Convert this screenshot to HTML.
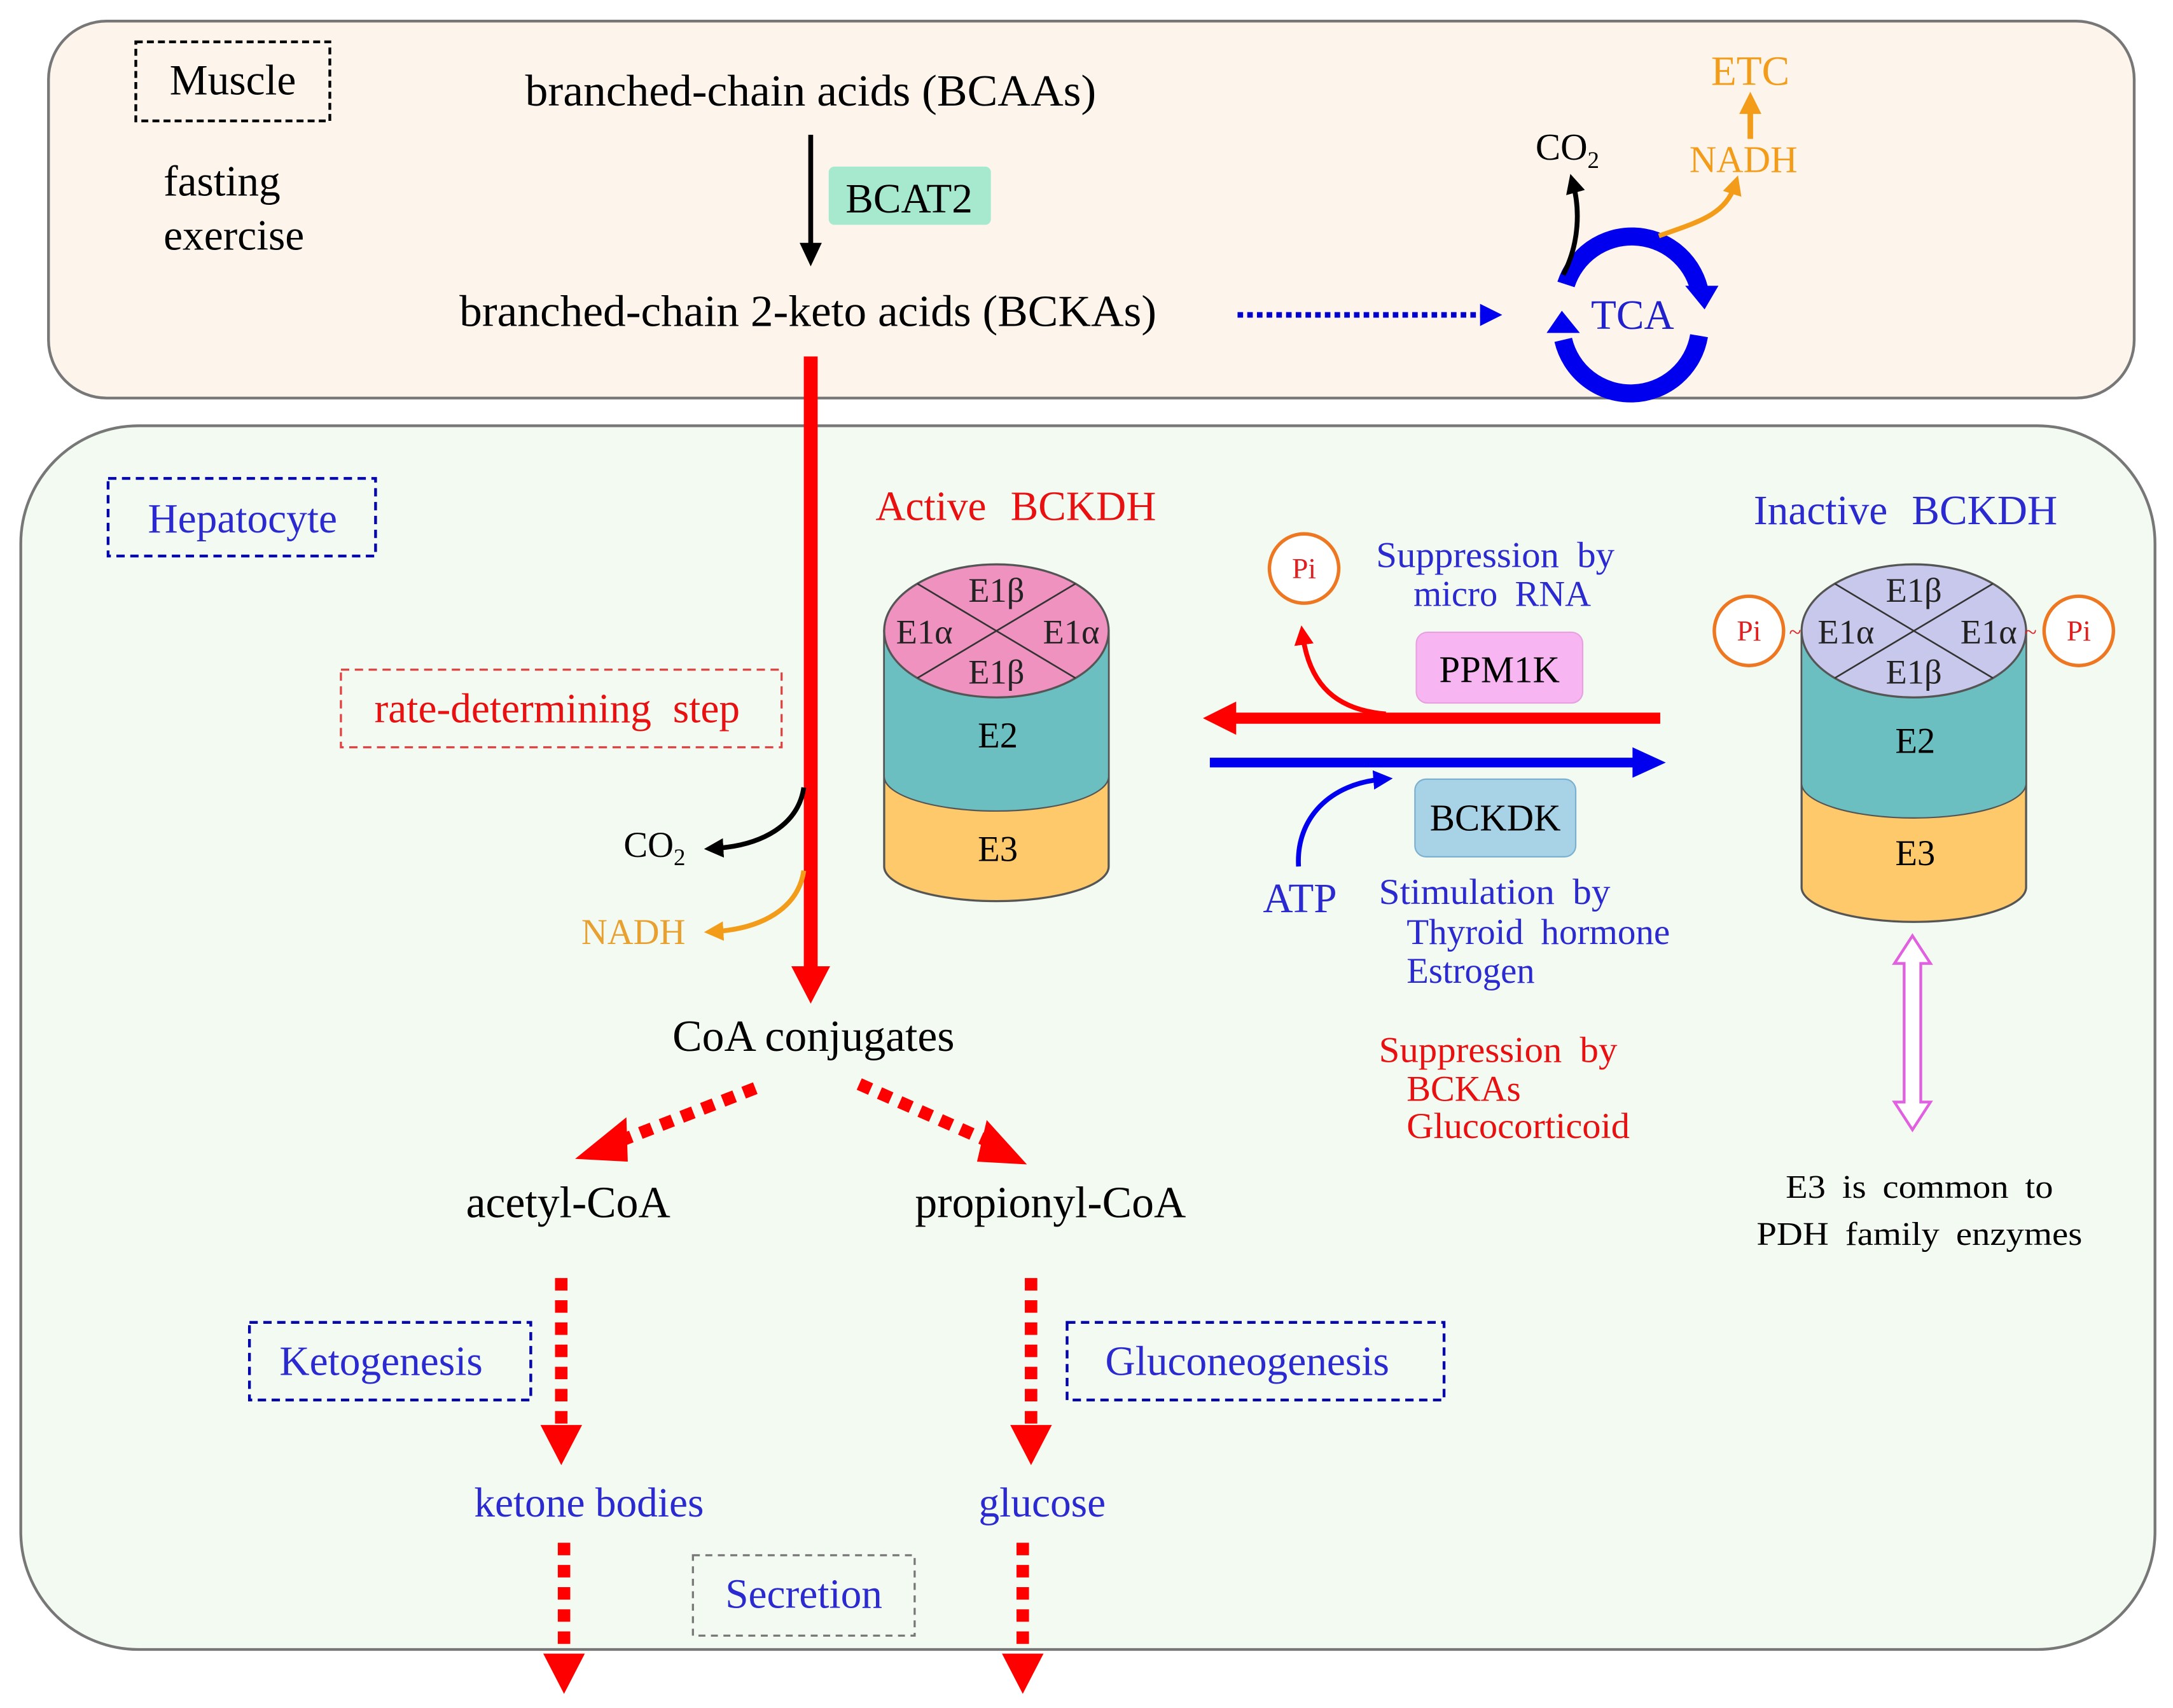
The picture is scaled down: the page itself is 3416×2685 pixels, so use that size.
<!DOCTYPE html>
<html><head><meta charset="utf-8"><style>html,body{margin:0;padding:0;background:#fff}svg{display:block}</style></head>
<body>
<svg width="3416" height="2685" viewBox="0 0 1568 1232" xmlns="http://www.w3.org/2000/svg" font-family="Liberation Serif, serif">
<defs>
<marker id="ab" markerWidth="4" markerHeight="4" refX="2" refY="2" orient="auto" markerUnits="strokeWidth"><path d="M0,0 L4,2 L0,4 z" fill="#000"/></marker>
<marker id="ao" markerWidth="4" markerHeight="4" refX="2" refY="2" orient="auto" markerUnits="strokeWidth"><path d="M0,0 L4,2 L0,4 z" fill="#f39c1a"/></marker>
<marker id="ar" markerWidth="4" markerHeight="4" refX="2" refY="2" orient="auto" markerUnits="strokeWidth"><path d="M0,0 L4,2 L0,4 z" fill="#f00"/></marker>
<marker id="abl" markerWidth="4" markerHeight="4" refX="2" refY="2" orient="auto" markerUnits="strokeWidth"><path d="M0,0 L4,2 L0,4 z" fill="#0000ee"/></marker>
</defs>
<rect width="1568" height="1232" fill="#fff"/>
<!-- Muscle -->
<rect x="35" y="15" width="1505" height="272" rx="42" fill="#fdf5ec" stroke="#777" stroke-width="2"/>
<rect x="98" y="30" width="140" height="57" fill="none" stroke="#000" stroke-width="2" stroke-dasharray="5,3"/>
<text x="168" y="68" font-size="31" text-anchor="middle">Muscle</text>
<text x="118" y="141" font-size="31">fasting</text>
<text x="118" y="180" font-size="31">exercise</text>
<text x="585" y="76" font-size="32" text-anchor="middle" textLength="412" lengthAdjust="spacingAndGlyphs">branched-chain acids (BCAAs)</text>
<line x1="585" y1="97" x2="585" y2="178" stroke="#000" stroke-width="3.5"/>
<path d="M577,175 L593,175 L585,192 z" fill="#000"/>
<rect x="598" y="120" width="117" height="42" rx="4" fill="#a6e9cf"/>
<text x="656" y="153" font-size="30" text-anchor="middle">BCAT2</text>
<text x="583" y="235" font-size="32" text-anchor="middle" textLength="503" lengthAdjust="spacingAndGlyphs">branched-chain 2-keto acids (BCKAs)</text>
<line x1="893" y1="227" x2="1070" y2="227" stroke="#0000cc" stroke-width="4" stroke-dasharray="4,3"/>
<path d="M1068,219 L1084,227 L1068,235 z" fill="#0000ee"/>
<!-- TCA -->
<path d="M1130,205 A50,50 0 0 1 1226,208" fill="none" stroke="#0000ee" stroke-width="13"/>
<path d="M1226,242 A50,50 0 0 1 1128,245" fill="none" stroke="#0000ee" stroke-width="13"/>
<path d="M1216,206 L1240,206 L1230,223 z" fill="#0000ee"/>
<path d="M1116,240 L1140,240 L1127,224 z" fill="#0000ee"/>
<text x="1178" y="237" font-size="30" text-anchor="middle" fill="#2020cc">TCA</text>
<path d="M1128,198 C1140,175 1140,150 1135,132" fill="none" stroke="#000" stroke-width="3.5" marker-end="url(#ab)"/>
<text x="1108" y="115" font-size="27">CO<tspan font-size="17" dy="6">2</tspan></text>
<path d="M1197,170 C1225,160 1245,155 1252,133" fill="none" stroke="#f39c1a" stroke-width="3.5" marker-end="url(#ao)"/>
<text x="1258" y="124" font-size="27" text-anchor="middle" fill="#f39c1a">NADH</text>
<line x1="1263" y1="100" x2="1263" y2="80" stroke="#f39c1a" stroke-width="4"/>
<path d="M1255,82 L1271,82 L1263,66 z" fill="#f39c1a"/>
<text x="1263" y="61" font-size="30" text-anchor="middle" fill="#f39c1a">ETC</text>
<!-- Hepatocyte -->
<rect x="15" y="307" width="1540" height="883" rx="85" fill="#f3faf1" stroke="#777" stroke-width="2"/>
<line x1="585" y1="257" x2="585" y2="700" stroke="#f00" stroke-width="10"/>
<path d="M571,697 L599,697 L585,724 z" fill="#f00"/>
<rect x="78" y="345" width="193" height="56" fill="none" stroke="#0000aa" stroke-width="2" stroke-dasharray="6,4"/>
<text x="175" y="384" font-size="30" text-anchor="middle" fill="#2a2ad0">Hepatocyte</text>
<rect x="246" y="483" width="318" height="56" fill="none" stroke="#e04040" stroke-width="1.5" stroke-dasharray="6,4"/>
<text x="402" y="521" font-size="30" text-anchor="middle" fill="#e81010" word-spacing="8">rate-determining step</text>
<path d="M580,568 C576,595 550,610 515,612" fill="none" stroke="#000" stroke-width="3.5" marker-end="url(#ab)"/>
<text x="450" y="618" font-size="26">CO<tspan font-size="17" dy="6">2</tspan></text>
<path d="M580,628 C576,655 550,670 515,672" fill="none" stroke="#f39c1a" stroke-width="3.5" marker-end="url(#ao)"/>
<text x="457" y="681" font-size="26" text-anchor="middle" fill="#e8a030">NADH</text>
<text x="587" y="758" font-size="32" text-anchor="middle">CoA conjugates</text>
<line x1="545" y1="785" x2="445" y2="824" stroke="#f00" stroke-width="9" stroke-dasharray="9,7"/>
<path d="M415,836 L452,806 L453,838 z" fill="#f00"/>
<line x1="620" y1="782" x2="717" y2="825" stroke="#f00" stroke-width="9" stroke-dasharray="9,7"/>
<path d="M741,840 L705,838 L712,808 z" fill="#f00"/>
<text x="410" y="878" font-size="32" text-anchor="middle">acetyl-CoA</text>
<text x="758" y="878" font-size="32" text-anchor="middle">propionyl-CoA</text>
<line x1="405" y1="922" x2="405" y2="1030" stroke="#f00" stroke-width="9" stroke-dasharray="9,7"/>
<path d="M390,1028 L420,1028 L405,1057 z" fill="#f00"/>
<line x1="744" y1="922" x2="744" y2="1030" stroke="#f00" stroke-width="9" stroke-dasharray="9,7"/>
<path d="M729,1028 L759,1028 L744,1057 z" fill="#f00"/>
<rect x="180" y="954" width="203" height="56" fill="none" stroke="#0000aa" stroke-width="2" stroke-dasharray="6,4"/>
<text x="275" y="992" font-size="30" text-anchor="middle" fill="#2a2ad0">Ketogenesis</text>
<rect x="770" y="954" width="272" height="56" fill="none" stroke="#0000aa" stroke-width="2" stroke-dasharray="6,4"/>
<text x="900" y="992" font-size="30" text-anchor="middle" fill="#2a2ad0">Gluconeogenesis</text>
<text x="425" y="1094" font-size="30" text-anchor="middle" fill="#2a2ad0">ketone bodies</text>
<text x="752" y="1094" font-size="30" text-anchor="middle" fill="#2a2ad0">glucose</text>
<rect x="500" y="1122" width="160" height="58" fill="none" stroke="#777" stroke-width="1.5" stroke-dasharray="5,4"/>
<text x="580" y="1160" font-size="30" text-anchor="middle" fill="#2a2ad0">Secretion</text>
<line x1="407" y1="1113" x2="407" y2="1195" stroke="#f00" stroke-width="9" stroke-dasharray="9,7"/>
<path d="M392,1193 L422,1193 L407,1222 z" fill="#f00"/>
<line x1="738" y1="1113" x2="738" y2="1195" stroke="#f00" stroke-width="9" stroke-dasharray="9,7"/>
<path d="M723,1193 L753,1193 L738,1222 z" fill="#f00"/>
<!-- Active BCKDH -->
<text x="733" y="375" font-size="30" text-anchor="middle" fill="#e81010" word-spacing="10">Active BCKDH</text>
<path d="M638,455 L638,625 A81,25 0 0 0 800,625 L800,455 z" fill="#fdc96a" stroke="#555" stroke-width="1.5"/>
<path d="M638,455 L638,560 A81,25 0 0 0 800,560 L800,455 z" fill="#6bbfc0" stroke="#555" stroke-width="1"/>
<ellipse cx="719" cy="455" rx="81" ry="48" fill="#f092c0" stroke="#555" stroke-width="1.5"/>
<line x1="662" y1="421" x2="776" y2="489" stroke="#333" stroke-width="1.2"/>
<line x1="776" y1="421" x2="662" y2="489" stroke="#333" stroke-width="1.2"/>
<g font-size="25" text-anchor="middle" fill="#222">
<text x="719" y="434">E1β</text><text x="719" y="493">E1β</text>
<text x="667" y="464">E1α</text><text x="773" y="464">E1α</text>
</g>
<text x="720" y="539" font-size="26" text-anchor="middle">E2</text>
<text x="720" y="621" font-size="26" text-anchor="middle">E3</text>
<!-- Inactive BCKDH -->
<text x="1375" y="378" font-size="30" text-anchor="middle" fill="#2a2ad0" word-spacing="10">Inactive BCKDH</text>
<path d="M1300,455 L1300,640 A81,25 0 0 0 1462,640 L1462,455 z" fill="#fdc96a" stroke="#555" stroke-width="1.5"/>
<path d="M1300,455 L1300,565 A81,25 0 0 0 1462,565 L1462,455 z" fill="#6bbfc0" stroke="#555" stroke-width="1"/>
<ellipse cx="1381" cy="455" rx="81" ry="48" fill="#c8c8ec" stroke="#555" stroke-width="1.5"/>
<line x1="1324" y1="421" x2="1438" y2="489" stroke="#333" stroke-width="1.2"/>
<line x1="1438" y1="421" x2="1324" y2="489" stroke="#333" stroke-width="1.2"/>
<g font-size="25" text-anchor="middle" fill="#222">
<text x="1381" y="434">E1β</text><text x="1381" y="493">E1β</text>
<text x="1332" y="464">E1α</text><text x="1435" y="464">E1α</text>
</g>
<text x="1382" y="543" font-size="26" text-anchor="middle">E2</text>
<text x="1382" y="624" font-size="26" text-anchor="middle">E3</text>
<!-- Pi circles -->
<g fill="#fff" stroke="#ee7722" stroke-width="2.5">
<circle cx="941" cy="410" r="25"/><circle cx="1262" cy="455" r="25"/><circle cx="1500" cy="455" r="25"/>
</g>
<g font-size="21" text-anchor="middle" fill="#e02020">
<text x="941" y="417">Pi</text><text x="1262" y="462">Pi</text><text x="1500" y="462">Pi</text>
</g>
<text x="1291" y="461" font-size="16" fill="#e02020">~</text>
<text x="1461" y="461" font-size="16" fill="#e02020">~</text>
<!-- arrows -->
<line x1="1198" y1="518" x2="890" y2="518" stroke="#f00" stroke-width="8"/>
<path d="M892,506 L868,518 L892,530 z" fill="#f00"/>
<path d="M1000,515 C965,512 945,495 940,458" fill="none" stroke="#f00" stroke-width="3.5" marker-end="url(#ar)"/>
<line x1="873" y1="550" x2="1180" y2="550" stroke="#0000ee" stroke-width="7"/>
<path d="M1178,539 L1202,550 L1178,561 z" fill="#0000ee"/>
<path d="M937,625 C935,590 960,565 998,562" fill="none" stroke="#0000ee" stroke-width="3.5" marker-end="url(#abl)"/>
<rect x="1022" y="456" width="120" height="51" rx="8" fill="#f7b6f2" stroke="#e8a0e0" stroke-width="1"/>
<text x="1082" y="492" font-size="27" text-anchor="middle">PPM1K</text>
<rect x="1021" y="562" width="116" height="56" rx="8" fill="#a8d2e6" stroke="#7ab0d0" stroke-width="1"/>
<text x="1079" y="599" font-size="27" text-anchor="middle">BCKDK</text>
<g font-size="26" fill="#2a2ad0" word-spacing="6">
<text x="993" y="409" textLength="172" lengthAdjust="spacingAndGlyphs">Suppression by</text>
<text x="1020" y="437">micro RNA</text>
<text x="995" y="652" textLength="167" lengthAdjust="spacingAndGlyphs">Stimulation by</text>
<text x="1015" y="681" textLength="190" lengthAdjust="spacingAndGlyphs">Thyroid hormone</text>
<text x="1015" y="709">Estrogen</text>
</g>
<text x="938" y="658" font-size="30" text-anchor="middle" fill="#2a2ad0">ATP</text>
<g font-size="26" fill="#e81010" word-spacing="6">
<text x="995" y="766" textLength="172" lengthAdjust="spacingAndGlyphs">Suppression by</text>
<text x="1015" y="794">BCKAs</text>
<text x="1015" y="821" textLength="161" lengthAdjust="spacingAndGlyphs">Glucocorticoid</text>
</g>
<!-- magenta double arrow -->
<path d="M1380,675 L1393,695 L1386,695 L1386,795 L1393,795 L1380,815 L1367,795 L1374,795 L1374,695 L1367,695 z" fill="#fff" stroke="#e060e0" stroke-width="2"/>
<text x="1385" y="864" font-size="24" text-anchor="middle" word-spacing="5" textLength="193" lengthAdjust="spacingAndGlyphs">E3 is common to</text>
<text x="1385" y="898" font-size="24" text-anchor="middle" word-spacing="5" textLength="235" lengthAdjust="spacingAndGlyphs">PDH family enzymes</text>
</svg>
</body></html>
